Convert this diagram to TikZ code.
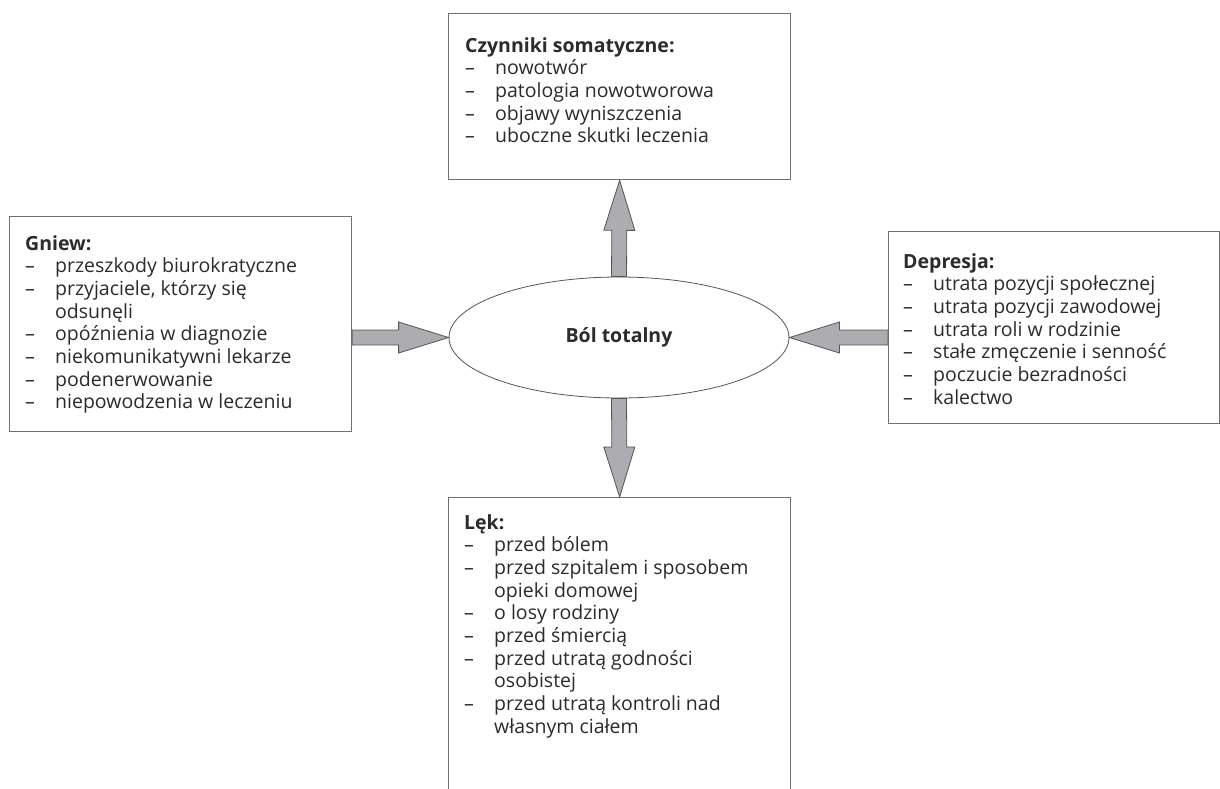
\documentclass[tikz,border=0pt]{standalone}
\usepackage{fontspec}
\setmainfont{Open Sans}
\usepackage{array}
\usetikzlibrary{calc,shapes.geometric}
\definecolor{txtc}{HTML}{2B2B2B}
\definecolor{boxc}{HTML}{707070}
\definecolor{arrfill}{HTML}{ADADB1}
\definecolor{arrdraw}{HTML}{555555}
\newcommand\bodyfont{\fontsize{19.5}{22.7}\selectfont}
\newcommand\blockarrow[2]{%
  \path (#2) coordinate (tipP) ($(#2)!50pt!(#1)$) coordinate (headP);
  \draw[barrow] ($(#1)!7.5pt!90:(#2)$) -- ($(headP)!7.5pt!90:(tipP)$)
    -- ($(headP)!15.5pt!90:(tipP)$) -- (tipP)
    -- ($(headP)!15.5pt!-90:(tipP)$) -- ($(headP)!7.5pt!-90:(tipP)$)
    -- ($(#1)!7.5pt!-90:(#2)$) -- cycle;}
\begin{document}
\begin{tikzpicture}[x=1pt,y=-1pt,
  box/.style={draw=boxc, line width=1.3pt, fill=white, rectangle, inner sep=0pt, anchor=north west},
  ell/.style={draw=arrdraw, line width=0.8pt, fill=white, ellipse, inner sep=0pt,
    minimum width=340pt, minimum height=121pt, text=txtc, font=\bodyfont\bfseries},
  txt/.style={anchor=base west, inner sep=0pt, text=txtc, font=\bodyfont},
  barrow/.style={draw=arrdraw, line width=0.8pt, fill=arrfill, line join=miter}]
\useasboundingbox (0,0) rectangle (1220,788);
\clip (0,0) rectangle (1220,788);

% central ellipse
\node[ell] (bol) at (619,337.5) {Ból totalny};

% boxes
\node[box, minimum width=342pt, minimum height=166pt] (som) at (448,13) {};
\node[box, minimum width=342pt, minimum height=215pt] (gniew) at (9,216) {};
\node[box, minimum width=331pt, minimum height=192pt] (dep) at (888,231) {};
\node[box, minimum width=342pt, minimum height=340pt] (lek) at (448,497) {};

% arrows
\blockarrow{bol.north}{som.south}
\blockarrow{bol.south}{lek.north}
\blockarrow{gniew.east |- bol.west}{bol.west}
\blockarrow{dep.west |- bol.east}{bol.east}

% texts
\node[txt] (somt) at (465,52) {\begin{tabular}[t]{@{}p{30pt}@{}l@{}}
\multicolumn{2}{@{}l@{}}{\bfseries Czynniki somatyczne:}\\
–& nowotwór\\
–& patologia nowotworowa\\
–& objawy wyniszczenia\\
–& uboczne skutki leczenia
\end{tabular}};

\node[txt] (gniewt) at (25,250) {\begin{tabular}[t]{@{}p{30pt}@{}l@{}}
\multicolumn{2}{@{}l@{}}{\bfseries Gniew:}\\
–& przeszkody biurokratyczne\\
–& przyjaciele, którzy się\\
 & odsunęli\\
–& opóźnienia w diagnozie\\
–& niekomunikatywni lekarze\\
–& podenerwowanie\\
–& niepowodzenia w leczeniu
\end{tabular}};

\node[txt] (dept) at (903,268) {\begin{tabular}[t]{@{}p{30pt}@{}l@{}}
\multicolumn{2}{@{}l@{}}{\bfseries Depresja:}\\
–& utrata pozycji społecznej\\
–& utrata pozycji zawodowej\\
–& utrata roli w rodzinie\\
–& stałe zmęczenie i senność\\
–& poczucie bezradności\\
–& kalectwo
\end{tabular}};

\node[txt] (lekt) at (464,529) {\begin{tabular}[t]{@{}p{30pt}@{}l@{}}
\multicolumn{2}{@{}l@{}}{\bfseries Lęk:}\\
–& przed bólem\\
–& przed szpitalem i sposobem\\
 & opieki domowej\\
–& o losy rodziny\\
–& przed śmiercią\\
–& przed utratą godności\\
 & osobistej\\
–& przed utratą kontroli nad\\
 & własnym ciałem
\end{tabular}};
\end{tikzpicture}
\end{document}
